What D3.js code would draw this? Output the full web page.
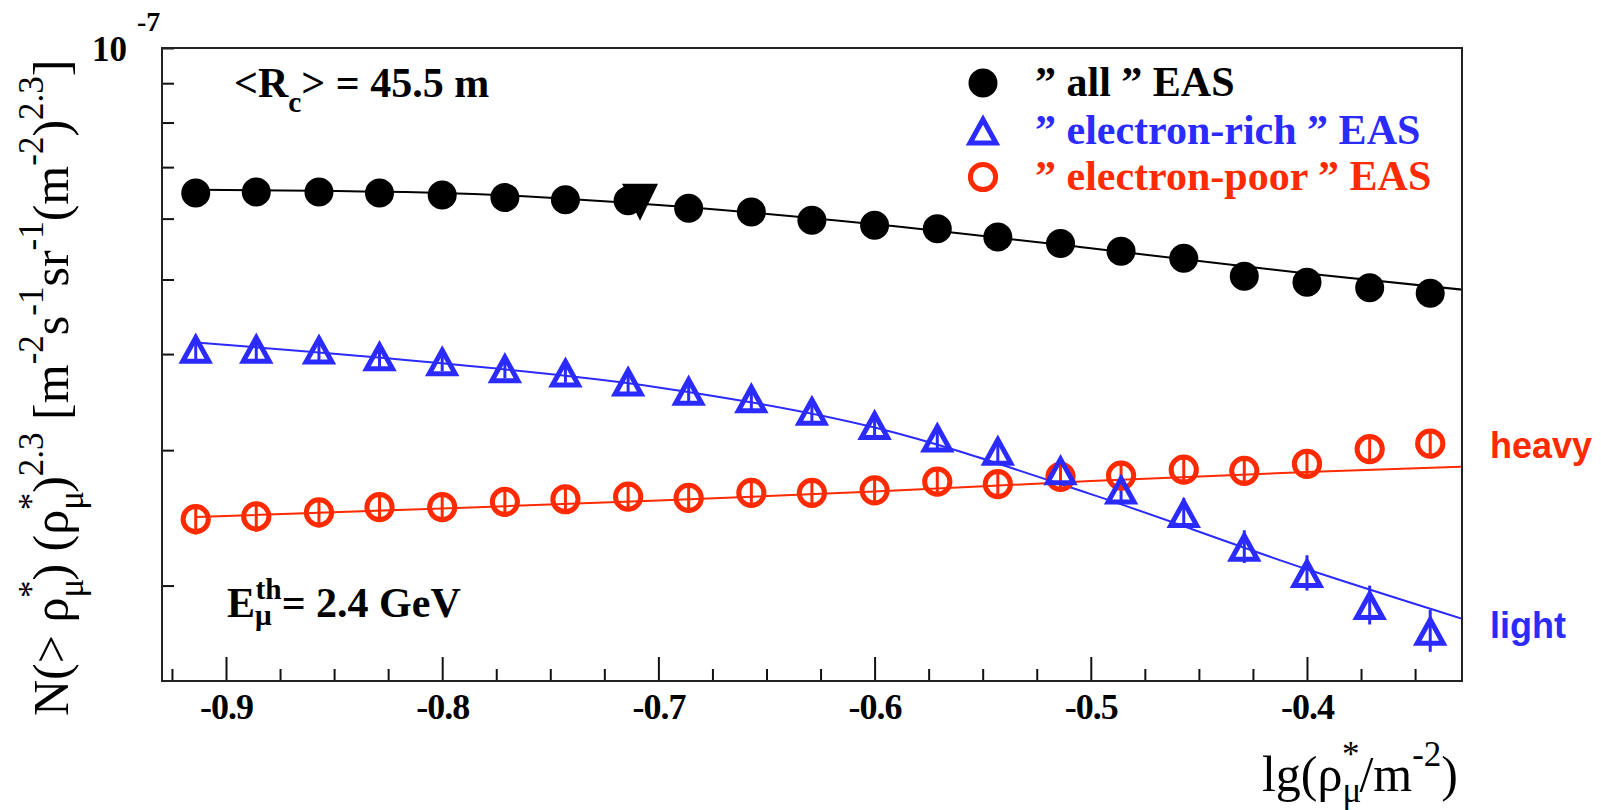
<!DOCTYPE html>
<html>
<head>
<meta charset="utf-8">
<script src="https://cdn.jsdelivr.net/npm/d3@7"></script>
<style>
  html, body { margin: 0; padding: 0; background: #fff; }
  svg { display: block; }
  text { font-family: "Liberation Serif", "Times New Roman", serif; }
  text.sans { font-family: "Liberation Sans", Arial, sans-serif; }
</style>
</head>
<body>
<svg id="chart" width="1601" height="810"></svg>
<script>
/* Data, values in units of 1e-8 */
const xBins = [-0.914, -0.886, -0.857, -0.829, -0.800, -0.771, -0.743, -0.714, -0.686, -0.657,
               -0.629, -0.600, -0.571, -0.543, -0.514, -0.486, -0.457, -0.429, -0.400, -0.371, -0.343];

const allEAS  = [6.48, 6.50, 6.50, 6.48, 6.44, 6.39, 6.35, 6.33, 6.19, 6.12,
                 5.97, 5.88, 5.82, 5.68, 5.57, 5.44, 5.33, 5.05, 4.96, 4.88, 4.80];
const allErr  = [0.10, 0.10, 0.10, 0.10, 0.10, 0.10, 0.10, 0.10, 0.10, 0.10,
                 0.10, 0.10, 0.10, 0.10, 0.10, 0.10, 0.10, 0.10, 0.10, 0.10, 0.10];

const richEAS = [4.07, 4.07, 4.06, 3.98, 3.92, 3.84, 3.79, 3.69, 3.59, 3.51,
                 3.38, 3.24, 3.12, 3.00, 2.83, 2.67, 2.49, 2.25, 2.08, 1.89, 1.75];
const richErr = [0.13, 0.13, 0.13, 0.13, 0.12, 0.12, 0.12, 0.12, 0.12, 0.12,
                 0.12, 0.12, 0.11, 0.11, 0.11, 0.11, 0.11, 0.11, 0.11, 0.11, 0.11];

const poorEAS = [2.44, 2.46, 2.49, 2.53, 2.53, 2.57, 2.59, 2.61, 2.60, 2.64,
                 2.64, 2.66, 2.73, 2.71, 2.77, 2.78, 2.83, 2.82, 2.88, 3.01, 3.06];
const poorErr = [0.11, 0.11, 0.11, 0.11, 0.11, 0.11, 0.11, 0.11, 0.11, 0.11,
                 0.11, 0.11, 0.11, 0.11, 0.11, 0.11, 0.11, 0.11, 0.12, 0.13, 0.13];

// stray down-triangle marker on the "all" curve
const extraX = [-0.7085];
const extraY = [6.31];

// fitted curves, read at a few x positions
const fitX    = [-0.914, -0.8, -0.7, -0.6, -0.5, -0.4, -0.328];
const allFit  = [6.54, 6.48, 6.25, 5.90, 5.49, 5.09, 4.85];
const richFit = [4.14, 3.89, 3.62, 3.21, 2.63, 2.10, 1.81];
const poorFit = [2.455, 2.52, 2.58, 2.65, 2.735, 2.81, 2.856];

// axes
const xMajor = [-0.9, -0.8, -0.7, -0.6, -0.5, -0.4];
const xMinor = [-0.925, -0.875, -0.85, -0.825, -0.775, -0.75, -0.725, -0.675, -0.65, -0.625,
                -0.575, -0.55, -0.525, -0.475, -0.45, -0.425, -0.375, -0.35];
const yTicks = [2, 3, 4, 5, 6, 7, 8, 9, 10];

const legendLabels = ['\u201D all \u201D EAS', '\u201D electron-rich \u201D EAS', '\u201D electron-poor \u201D EAS'];

const RED = '#ff2a00';
const BLUE = '#2b2bff';

/* Layout */
const svg = d3.select('#chart');
const frame = { left: 162, right: 1462, top: 48, bottom: 681 };

const x = d3.scaleLinear().domain([-0.9296, -0.3283]).range([frame.left, frame.right]);
const y = d3.scaleLog().domain([1.503, 10]).range([frame.bottom, frame.top]);

// helper for text with sub/superscripts
function addRich(textSel, parts, fs, supOff = -0.5, subOff = 0.3, scale = 0.7) {
    let cur = 0;
    parts.forEach(([str, kind, dx]) => {
        const off = kind === 'sup' ? supOff * fs : kind === 'sub' ? subOff * fs : 0;
        const ts = textSel.append('tspan').attr('dy', off - cur).text(str);
        if (kind !== 'base') ts.attr('font-size', fs * scale);
        if (dx) ts.attr('dx', dx);
        cur = off;
    });
}

svg.append('defs').append('clipPath').attr('id', 'clip')
    .append('rect')
    .attr('x', frame.left).attr('y', frame.top)
    .attr('width', frame.right - frame.left).attr('height', frame.bottom - frame.top);

const plot = svg.append('g').attr('clip-path', 'url(#clip)');

// fit lines
const line = d3.line().x(d => x(d[0])).y(d => y(d[1])).curve(d3.curveMonotoneX);
[[allFit, '#000'], [richFit, BLUE], [poorFit, RED]].forEach(([vals, col]) => {
    plot.append('path')
        .datum(fitX.map((v, i) => [v, vals[i]]))
        .attr('fill', 'none')
        .attr('stroke', col)
        .attr('stroke-width', 2)
        .attr('d', line);
});

// error bars
function errorBars(vals, errs, col) {
    plot.append('g').selectAll('line')
        .data(vals.map((v, i) => [xBins[i], v, errs[i]]))
        .enter().append('line')
        .attr('x1', d => x(d[0])).attr('x2', d => x(d[0]))
        .attr('y1', d => y(d[1] - d[2])).attr('y2', d => y(d[1] + d[2]))
        .attr('stroke', col).attr('stroke-width', 3);
}
errorBars(allEAS, allErr, '#000');
errorBars(richEAS, richErr, BLUE);
errorBars(poorEAS, poorErr, RED);

// markers
const triPath = 'M0,-10.5L13,13L-13,13Z';

function drawAll(g, cx, cy) {
    g.append('circle').attr('cx', cx).attr('cy', cy).attr('r', 14.5).attr('fill', '#000');
}
function drawRich(g, cx, cy) {
    g.append('path').attr('d', triPath).attr('transform', `translate(${cx},${cy})`)
        .attr('fill', 'none').attr('stroke', BLUE).attr('stroke-width', 5)
        .attr('stroke-linejoin', 'miter');
}
function drawPoor(g, cx, cy) {
    g.append('circle').attr('cx', cx).attr('cy', cy).attr('r', 12.6)
        .attr('fill', 'none').attr('stroke', RED).attr('stroke-width', 5);
}

const markers = svg.append('g');
xBins.forEach((xv, i) => {
    drawPoor(markers, x(xv), y(poorEAS[i]));
    drawRich(markers, x(xv), y(richEAS[i]));
    drawAll(markers, x(xv), y(allEAS[i]));
});

// stray down triangle
extraX.forEach((xv, i) => {
    markers.append('path')
        .attr('d', 'M-18,-18L18,-18L0,19Z')
        .attr('transform', `translate(${x(xv)},${y(extraY[i])})`)
        .attr('fill', '#000');
});

/* Axes */
const xAxisMajor = d3.axisBottom(x).tickValues(xMajor).tickSize(-24).tickPadding(12)
    .tickFormat(d => d.toFixed(1));
const xAxisMinor = d3.axisBottom(x).tickValues(xMinor).tickSize(-12).tickFormat('');

const gxMinor = svg.append('g').attr('transform', `translate(0,${frame.bottom})`).call(xAxisMinor);
gxMinor.select('.domain').remove();
const gx = svg.append('g').attr('transform', `translate(0,${frame.bottom})`).call(xAxisMajor);
gx.select('.domain').remove();
gx.selectAll('.tick line').attr('stroke', '#111').attr('stroke-width', 2);
gxMinor.selectAll('.tick line').attr('stroke', '#111').attr('stroke-width', 2);
gx.selectAll('.tick text')
    .style('font-weight', 'bold')
    .style('font-size', '36px')
    .style('letter-spacing', '-1px')
    .attr('fill', '#000');

const yAxis = d3.axisLeft(y).tickValues(yTicks).tickSize(-12).tickFormat('');
const gy = svg.append('g').attr('transform', `translate(${frame.left},0)`).call(yAxis);
gy.select('.domain').remove();
gy.selectAll('.tick line').attr('stroke', '#111').attr('stroke-width', 2);

// frame
svg.append('rect')
    .attr('x', frame.left).attr('y', frame.top)
    .attr('width', frame.right - frame.left).attr('height', frame.bottom - frame.top)
    .attr('fill', 'none').attr('stroke', '#222').attr('stroke-width', 2);

// 10^-7 label
const decade = svg.append('text').attr('x', 92).attr('y', 61)
    .attr('font-weight', 'bold').attr('font-size', 35);
decade.append('tspan').text('10');
decade.append('tspan').attr('x', 137).attr('y', 31).attr('font-size', 28).text('-7');

/* Axis titles */
const yTitle = svg.append('text')
    .attr('transform', 'translate(68,716) rotate(-90)')
    .attr('font-size', 50);
addRich(yTitle, [
    ['N(> \u03C1', 'base'], ['\u03BC', 'sub'], ['*', 'sup', '-0.55em'],
    [') (\u03C1', 'base'], ['\u03BC', 'sub'], ['*', 'sup', '-0.55em'],
    [')', 'base'], ['2.3', 'sup'],
    [' [m', 'base'], ['-2', 'sup'], ['s', 'base'], ['-1', 'sup'],
    ['sr', 'base'], ['-1', 'sup'], ['(m', 'base'], ['-2', 'sup'],
    [')', 'base'], ['2.3', 'sup'], [']', 'base']
], 50);

const xTitle = svg.append('text')
    .attr('x', 1458).attr('y', 791)
    .attr('text-anchor', 'end')
    .attr('font-size', 50);
addRich(xTitle, [
    ['lg(\u03C1', 'base'], ['\u03BC', 'sub'], ['*', 'sup', '-0.55em'],
    ['/m', 'base'], ['-2', 'sup'], [')', 'base']
], 50, -0.5, 0.22);

/* Annotations */
const rc = svg.append('text').attr('x', 234).attr('y', 97)
    .attr('font-weight', 'bold').attr('font-size', 42);
addRich(rc, [['<R', 'base'], ['c', 'sub'], ['> = 45.5 m', 'base']], 42, -0.5, 0.35);

const eth = svg.append('text').attr('x', 227).attr('y', 617)
    .attr('font-weight', 'bold').attr('font-size', 42);
addRich(eth, [['E', 'base'], ['\u03BC', 'sub'], ['th', 'sup', '-0.55em'], ['= 2.4 GeV', 'base']], 42, -0.42, 0.2);

/* Legend */
const legend = svg.append('g');
const legendY = [83, 130, 177];
const legendBase = [96, 144, 190];
const legendColors = ['#000', BLUE, RED];
const legendDraw = [drawAll, drawRich, drawPoor];
legendLabels.forEach((lab, i) => {
    legendDraw[i](legend, 983, legendY[i]);
    legend.append('text')
        .attr('x', 1035).attr('y', legendBase[i])
        .attr('font-weight', 'bold').attr('font-size', 42)
        .attr('fill', legendColors[i])
        .text(lab);
});

/* Side labels */
svg.append('text').attr('class', 'sans').attr('x', 1490).attr('y', 458)
    .attr('font-weight', 'bold').attr('font-size', 36).attr('fill', RED)
    .text('heavy');
svg.append('text').attr('class', 'sans').attr('x', 1490).attr('y', 638)
    .attr('font-weight', 'bold').attr('font-size', 36).attr('fill', BLUE)
    .text('light');
</script>
</body>
</html>
